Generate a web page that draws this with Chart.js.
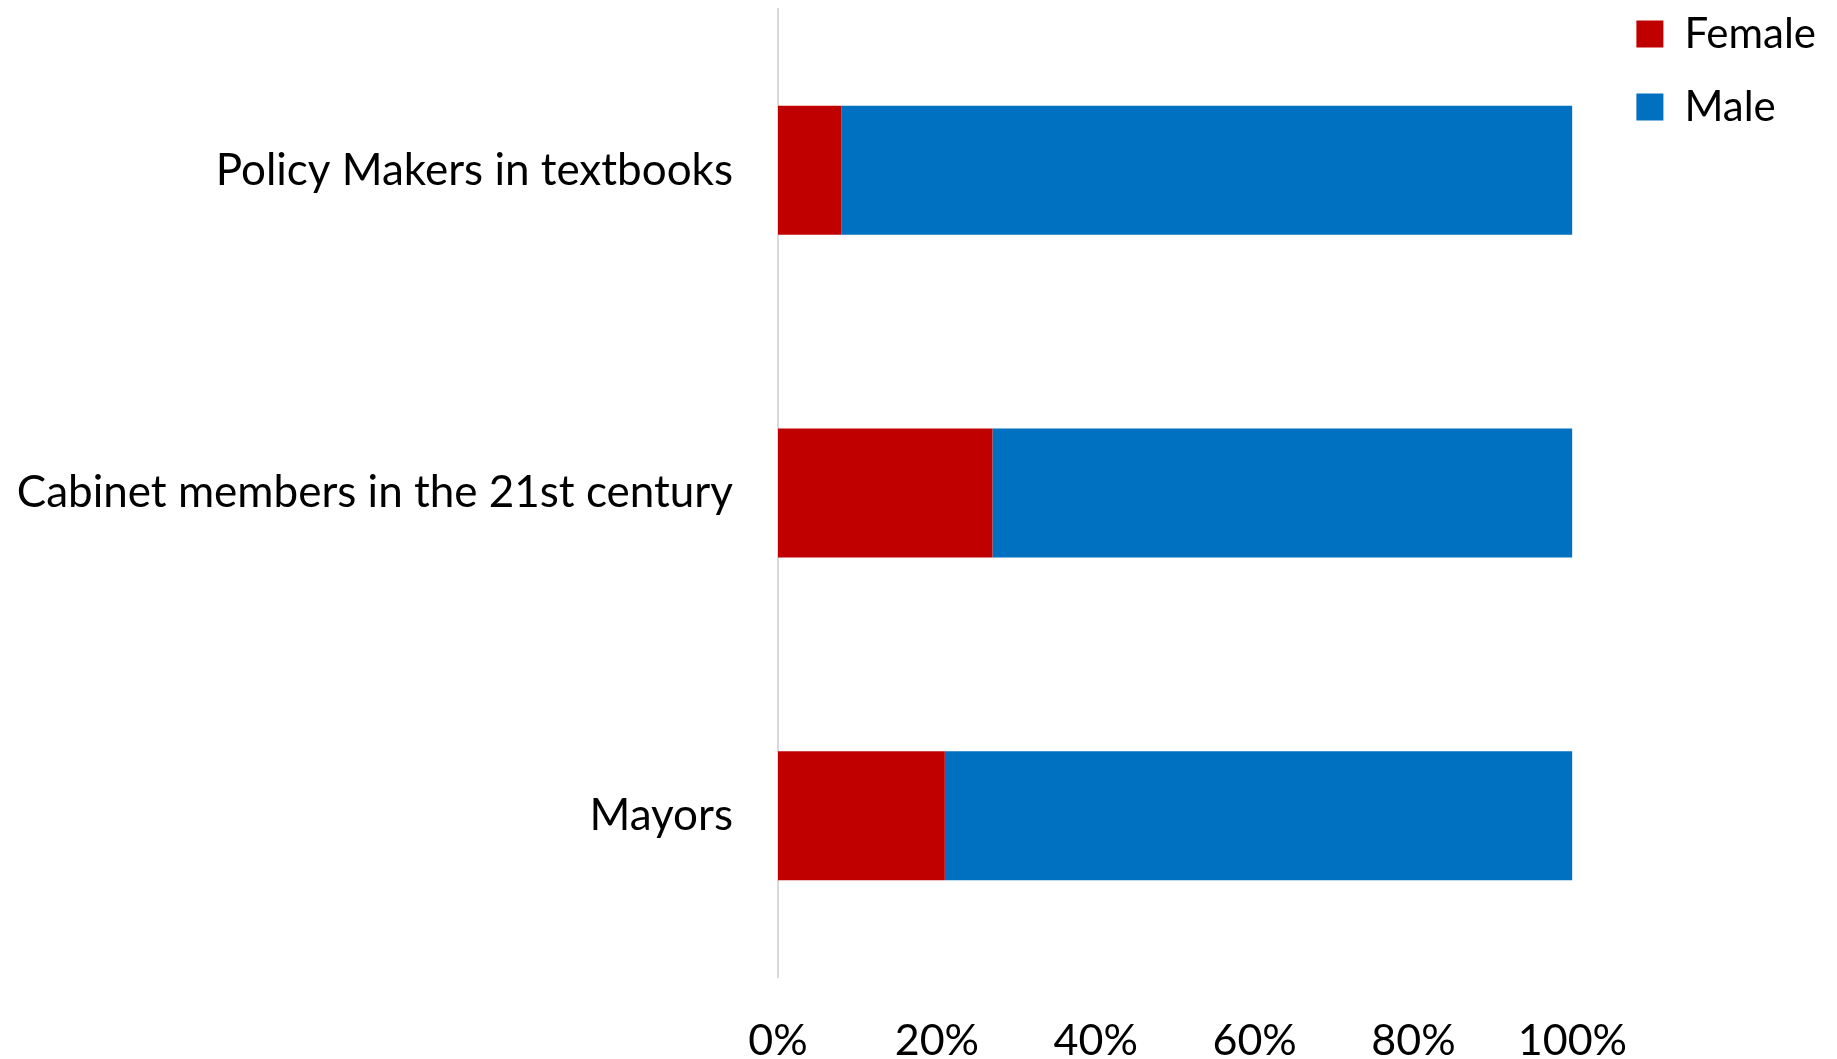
<!DOCTYPE html>
<html>
<head>
<meta charset="utf-8">
<script src="https://cdn.jsdelivr.net/npm/chart.js@4.4.1/dist/chart.umd.min.js"></script>
<style>
  html, body { margin: 0; padding: 0; background: #fff; }
  #wrap { width: 1837px; height: 1059px; }
</style>
</head>
<body>
<div id="wrap"><canvas id="genderChart" width="1837" height="1059"></canvas></div>
<script>
    // Share of women and men in each group (percent)
    const categories = ['Policy Makers in textbooks', 'Cabinet members in the 21st century', 'Mayors'];
    const femaleShare = [8, 27, 21];
    const maleShare = [92, 73, 79];
    const xTicks = [0, 20, 40, 60, 80, 100];

    const FONT = 'Lato, "Open Sans", sans-serif';

    // Moves the built-in legend up into the top-right corner, clear of the plot
    const legendOffset = {
        id: 'legendOffset',
        afterLayout(chart) {
            const lg = chart.legend;
            if (lg) {
                lg.left = chart.chartArea.right + 33;
                lg.right = chart.width;
                lg.width = lg.right - lg.left;
                lg.top = chart.chartArea.top - 27;
            }
        }
    };

    const ctx = document.getElementById('genderChart').getContext('2d');

    new Chart(ctx, {
        type: 'bar',
        data: {
            labels: categories,
            datasets: [
                {
                    label: 'Female',
                    data: femaleShare,
                    backgroundColor: '#C00000',
                    borderWidth: 0
                },
                {
                    label: 'Male',
                    data: maleShare,
                    backgroundColor: '#0070C0',
                    borderWidth: 0
                }
            ]
        },
        options: {
            indexAxis: 'y',
            responsive: false,
            animation: false,
            layout: {
                padding: { top: 9, right: 44, bottom: 0, left: 0 }
            },
            datasets: {
                bar: { categoryPercentage: 1, barPercentage: 0.4 }
            },
            scales: {
                x: {
                    stacked: true,
                    min: 0,
                    max: 100,
                    afterBuildTicks: (scale) => {
                        scale.ticks = xTicks.map(v => ({ value: v }));
                    },
                    afterFit: (scale) => { scale.height = 82; },
                    grid: { display: false, drawTicks: false },
                    border: { display: false },
                    ticks: {
                        padding: 38,
                        color: '#000',
                        font: { family: FONT, size: 43 },
                        maxRotation: 0,
                        callback: v => v + '%'
                    }
                },
                y: {
                    stacked: true,
                    afterFit: (scale) => {
                        scale.width = 778;
                        scale.paddingTop = 0;
                        scale.paddingBottom = 0;
                    },
                    grid: { display: false, drawTicks: false },
                    border: { display: true, color: '#D9D9D9', width: 2 },
                    ticks: {
                        padding: 45,
                        color: '#000',
                        font: { family: FONT, size: 44 }
                    }
                }
            },
            plugins: {
                legend: {
                    position: 'right',
                    align: 'start',
                    labels: {
                        boxWidth: 27,
                        boxHeight: 27,
                        padding: 31,
                        color: '#000',
                        font: { family: FONT, size: 42 }
                    }
                },
                tooltip: { enabled: false }
            }
        },
        plugins: [legendOffset]
    });
</script>
</body>
</html>
